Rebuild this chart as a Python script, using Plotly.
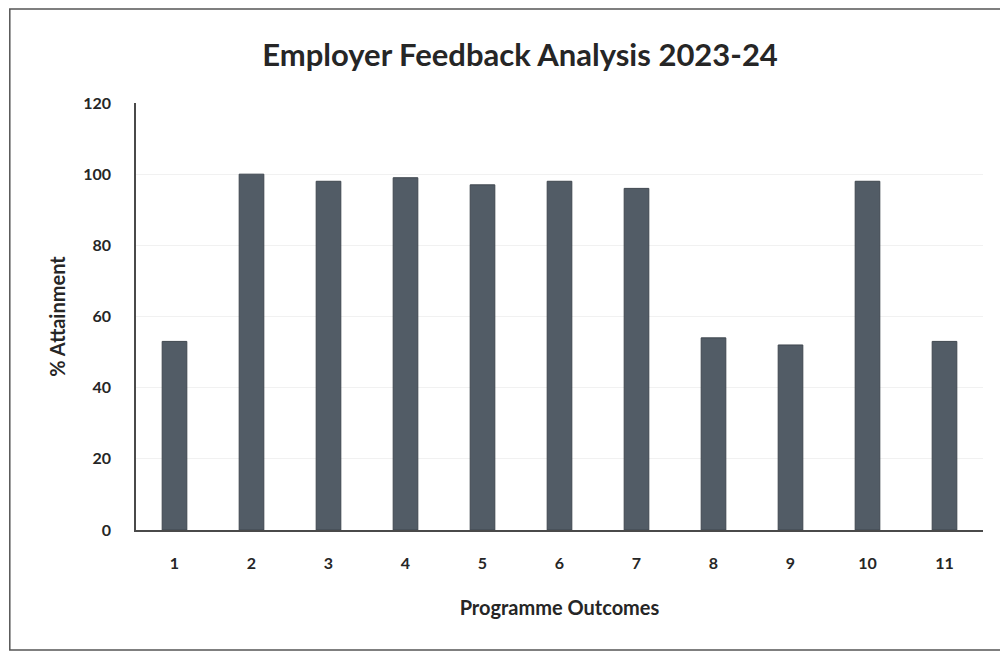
import plotly.graph_objects as go

categories = ["1", "2", "3", "4", "5", "6", "7", "8", "9", "10", "11"]
attainment = [53, 100, 98, 99, 97, 98, 96, 54, 52, 98, 53]
y_ticks = [0, 20, 40, 60, 80, 100, 120]

fig = go.Figure(
    go.Bar(
        x=categories,
        y=attainment,
        marker=dict(color="#525c66", line=dict(color="#3f474f", width=1)),
        width=0.32,
    )
)

font_family = "Lato, 'Open Sans', sans-serif"

fig.update_layout(
    width=1008,
    height=659,
    margin=dict(l=128, r=33, t=95, b=137),
    paper_bgcolor="white",
    plot_bgcolor="white",
    showlegend=False,
    title=dict(
        text="<b>Employer Feedback Analysis 2023-24</b>",
        x=0.508,
        xanchor="center",
        y=0.929,
        yanchor="middle",
        yref="container",
        font=dict(family=font_family, size=31, color="#262626"),
    ),
    font=dict(family=font_family, color="#262626"),
)

fig.update_xaxes(
    type="category",
    showline=True,
    linecolor="#4a4a4a",
    linewidth=1.5,
    showgrid=False,
    ticks="",
    ticklabelstandoff=18,
    tickfont=dict(size=16, family=font_family, color="#262626", weight="bold"),
    title=dict(
        text="<b>Programme Outcomes</b>",
        standoff=30,
        font=dict(size=20, family=font_family, color="#262626"),
    ),
)

fig.update_yaxes(
    range=[0, 120],
    tickvals=y_ticks,
    showline=True,
    linecolor="#4a4a4a",
    linewidth=1.5,
    showgrid=True,
    gridcolor="#f1f1f1",
    gridwidth=1,
    zeroline=False,
    ticks="",
    ticklabelstandoff=20,
    tickfont=dict(size=16, family=font_family, color="#262626", weight="bold"),
    title=dict(
        text="<b>% Attainment</b>",
        standoff=12,
        font=dict(size=20, family=font_family, color="#262626"),
    ),
)

fig.add_shape(
    type="rect",
    xref="paper",
    yref="paper",
    x0=-0.149,
    x1=1.05,
    y0=-0.281,
    y1=1.22,
    line=dict(color="#555555", width=1.5),
    fillcolor="rgba(0,0,0,0)",
    layer="below",
)

fig.write_html("out.html")
